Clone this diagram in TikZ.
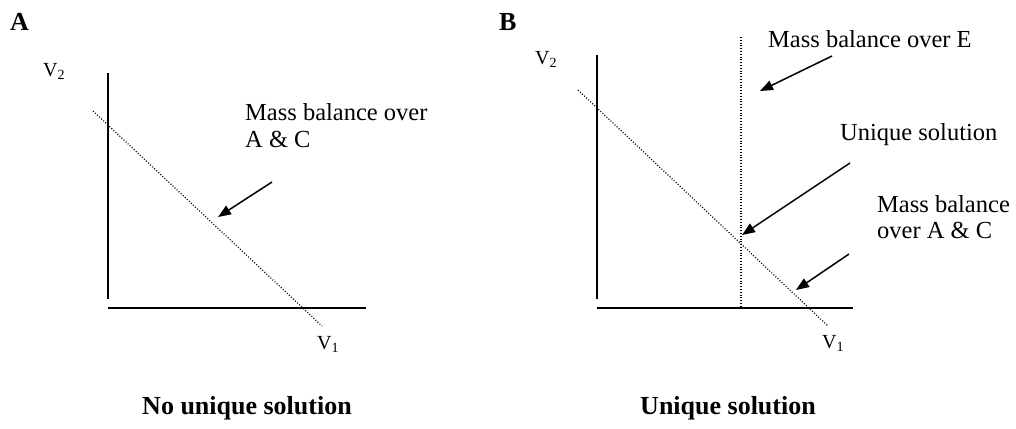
\documentclass[tikz,border=0pt]{standalone}
\usepackage{fontspec}
\setmainfont{Liberation Serif}
\usetikzlibrary{arrows.meta}
\begin{document}
\begin{tikzpicture}[x=1pt,y=-1pt,
  axis/.style={line width=1.8pt},
  guide/.style={line width=1.2pt, dash pattern=on 1pt off 1.8pt},
  pointer/.style={line width=1.5pt, -{Triangle[length=13pt,width=10pt]}},
  lbl/.style={inner sep=0pt, anchor=base west, font=\fontsize{24.5}{28}\selectfont},
  axlbl/.style={inner sep=0pt, anchor=base west, font=\fontsize{20}{22}\selectfont},
  panel/.style={inner sep=0pt, anchor=base west, font=\fontsize{26}{28}\selectfont\bfseries},
  caption/.style={inner sep=0pt, anchor=base, font=\fontsize{26}{30}\selectfont\bfseries}]
\useasboundingbox (0,0) rectangle (1016,428);

% ---------- Panel A ----------
\node[panel] (pA) at (10,31) {A};
\node[axlbl] (v2a) at (43,76) {V\textsubscript{2}};
\node[axlbl] (v1a) at (317,349) {V\textsubscript{1}};
\coordinate (a-ytop) at (108,73);
\coordinate (a-ybot) at (108,299);
\coordinate (a-xl) at (108,308);
\coordinate (a-xr) at (366,308);
\coordinate (a-d1) at (93,111);
\coordinate (a-d2) at (322,326);
\coordinate (a-arr1) at (272,182);
\coordinate (a-arr2) at (218,217);
\draw[axis] (a-ytop) -- (a-ybot);
\draw[axis] (a-xl) -- (a-xr);
\draw[guide] (a-d1) -- (a-d2);
\draw[pointer] (a-arr1) -- (a-arr2);
\node[lbl] (mba1) at (245,120) {Mass balance over};
\node[lbl] (mba2) at (245,147) {A \& C};
\node[caption] (capA) at (247,414) {No unique solution};

% ---------- Panel B ----------
\node[panel] (pB) at (499,31) {B};
\node[axlbl] (v2b) at (535,64) {V\textsubscript{2}};
\node[axlbl] (v1b) at (822,348) {V\textsubscript{1}};
\coordinate (b-ytop) at (597,55);
\coordinate (b-ybot) at (597,299);
\coordinate (b-xl) at (597,308);
\coordinate (b-xr) at (853,308);
\coordinate (b-vt) at (741,37);
\coordinate (b-vb) at (741,308);
\coordinate (b-d1) at (578,90);
\coordinate (b-d2) at (828,326);
\draw[axis] (b-ytop) -- (b-ybot);
\draw[axis] (b-xl) -- (b-xr);
\draw[guide] (b-vt) -- (b-vb);
\draw[guide] (b-d1) -- (b-d2);
\coordinate (b-e1) at (832,56);
\coordinate (b-e2) at (760,91);
\coordinate (b-u1) at (850,163);
\coordinate (b-u2) at (742,235);
\coordinate (b-m1) at (849,254);
\coordinate (b-m2) at (796,290);
\draw[pointer] (b-e1) -- (b-e2);
\draw[pointer] (b-u1) -- (b-u2);
\draw[pointer] (b-m1) -- (b-m2);
\node[lbl] (mbe) at (768,48) {Mass balance over E};
\node[lbl] (uniq) at (840,140) {Unique solution};
\node[lbl] (mbb1) at (877,212) {Mass balance};
\node[lbl] (mbb2) at (877,238) {over A \& C};
\node[caption] (capB) at (728,414) {Unique solution};
\end{tikzpicture}
\end{document}
